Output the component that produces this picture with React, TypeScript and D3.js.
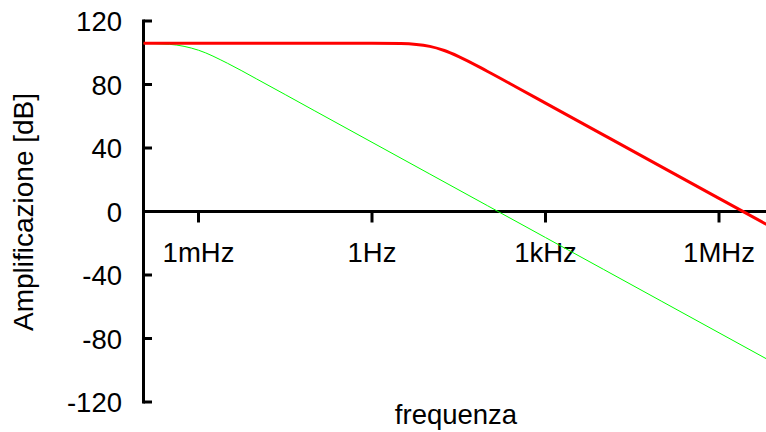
import React from "react";
import * as d3 from "d3";

// log10 of frequency (Hz) at sample points
const redLogF = [-4, -2, 0, 0.5, 1, 1.25, 1.5, 2, 2.5, 3, 4, 5, 6, 7];
const redDb = [106, 106, 105.97, 105.75, 104.0, 101.4, 97.6, 88.2, 78.3, 68.3, 48.3, 28.3, 8.3, -11.7];

const greenLogF = [-4, -3.5, -3, -2.5, -2, -1, 0, 1, 2, 3, 4, 5, 6, 7];
const greenDb = [105.9, 105.3, 101.6, 93.4, 83.6, 63.6, 43.6, 23.6, 3.6, -16.4, -36.4, -56.4, -76.4, -96.4];

const yTicks = [120, 80, 40, 0, -40, -80, -120];
const xTickFreqs = [1e-3, 1, 1e3, 1e6];
const xTickLabels = ["1mHz", "1Hz", "1kHz", "1MHz"];

const W = 766;
const H = 432;
const FONT = "'Liberation Sans', Arial, Helvetica, sans-serif";
const FS = 27.5;

export default function App() {
  const x = d3.scaleLog().domain([1e-3, 1e6]).range([198.5, 719]);
  const y = d3.scaleLinear().domain([-120, 120]).range([402, 21]);
  const axisX = 143.5;
  const y0 = y(0);

  const line = d3
    .line<[number, number]>()
    .x((d) => x(Math.pow(10, d[0])))
    .y((d) => y(d[1]))
    .curve(d3.curveMonotoneX);

  const redPts: [number, number][] = redLogF.map((f, i) => [f, redDb[i]]);
  const greenPts: [number, number][] = greenLogF.map((f, i) => [f, greenDb[i]]);

  return (
    <div style={{ position: "absolute", left: 0, top: 0 }}>
      <svg width={W} height={H} style={{ display: "block", background: "#fff" }}>
        <defs>
          <clipPath id="plotclip">
            <rect x={axisX} y={0} width={W - axisX} height={H} />
          </clipPath>
        </defs>
        {/* y axis */}
        <line x1={axisX} x2={axisX} y1={y(120)} y2={y(-120)} stroke="#000" strokeWidth={3} strokeLinecap="square" />
        {yTicks.map((t) => (
          <g key={t}>
            <line x1={axisX} x2={152} y1={y(t)} y2={y(t)} stroke="#000" strokeWidth={3} />
            <text x={122} y={y(t) + 10} textAnchor="end" fontFamily={FONT} fontSize={FS} fill="#000">
              {t}
            </text>
          </g>
        ))}
        {/* x axis at 0 dB */}
        <line x1={axisX} x2={W} y1={y0} y2={y0} stroke="#000" strokeWidth={3} />
        {xTickFreqs.map((f, i) => (
          <g key={f}>
            <line x1={x(f)} x2={x(f)} y1={y0} y2={y0 + 11} stroke="#000" strokeWidth={3} />
            <text x={x(f)} y={262} textAnchor="middle" fontFamily={FONT} fontSize={FS} fill="#000">
              {xTickLabels[i]}
            </text>
          </g>
        ))}
        {/* curves */}
        <g clipPath="url(#plotclip)">
          <path d={line(greenPts) || ""} fill="none" stroke="#00ff00" strokeWidth={1} />
          <path d={line(redPts) || ""} fill="none" stroke="#ff0000" strokeWidth={3} />
        </g>
        {/* axis titles */}
        <text x={456} y={424} textAnchor="middle" fontFamily={FONT} fontSize={FS} fill="#000">
          frequenza
        </text>
        <text
          transform={`translate(33,212) rotate(-90)`}
          textAnchor="middle"
          fontFamily={FONT}
          fontSize={28}
          fill="#000"
        >
          Amplificazione [dB]
        </text>
      </svg>
    </div>
  );
}
